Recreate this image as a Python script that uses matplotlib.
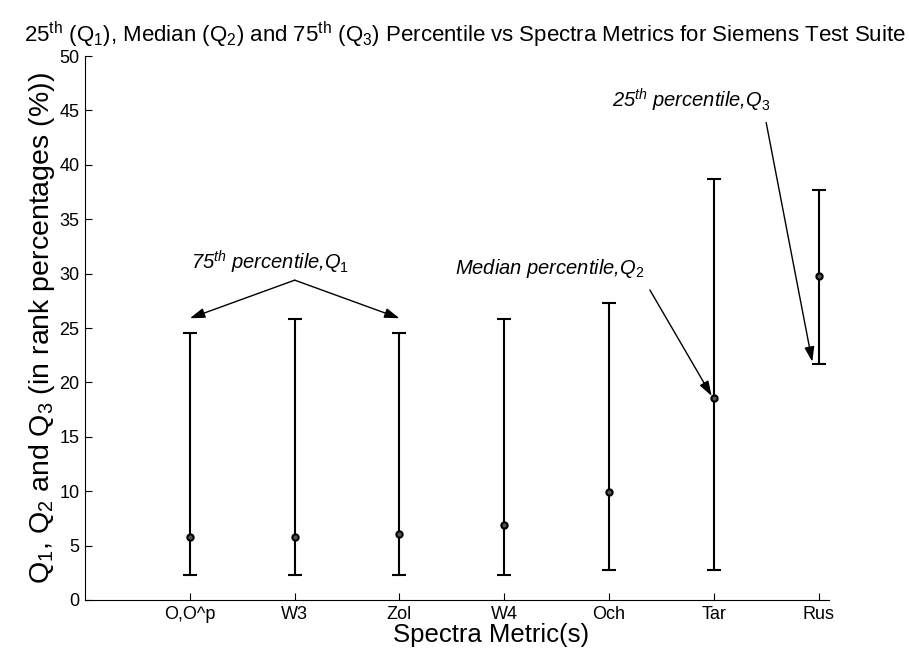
import numpy as np
import matplotlib
matplotlib.use('Agg')
import matplotlib.pyplot as plt

plt.rcParams['font.family'] = 'Liberation Sans'
plt.rcParams['mathtext.fontset'] = 'custom'
plt.rcParams['mathtext.rm'] = 'Liberation Sans'
plt.rcParams['mathtext.it'] = 'Liberation Sans:italic'
plt.rcParams['mathtext.bf'] = 'Liberation Sans:bold'

# data
metrics = ['O,O^p', 'W3', 'Zol', 'W4', 'Och', 'Tar', 'Rus']
q1 = np.array([2.3, 2.3, 2.3, 2.3, 2.8, 2.8, 21.7])
q2 = np.array([5.8, 5.8, 6.1, 6.9, 9.9, 18.6, 29.8])
q3 = np.array([24.5, 25.8, 24.5, 25.8, 27.3, 38.7, 37.7])
yticks = [0, 5, 10, 15, 20, 25, 30, 35, 40, 45, 50]

x = np.arange(1, len(metrics) + 1)

fig = plt.figure(figsize=(9.09, 6.52), dpi=100, facecolor='white')
ax = fig.add_axes([0.0937, 0.0798, 0.8183, 0.8342])

ax.errorbar(x, q2, yerr=[q2 - q1, q3 - q2], fmt='o', color='black',
            ecolor='black', elinewidth=1.5, capsize=5, capthick=1.5,
            markersize=4.5, markerfacecolor='#555555', markeredgecolor='black',
            markeredgewidth=1.5)

ax.set_xlim(0, 7.1)
ax.set_ylim(0, 50)
ax.set_xticks(x)
ax.set_xticklabels(metrics)
ax.set_yticks(yticks)
ax.tick_params(direction='in', length=5, labelsize=13, width=0.8, pad=4)
ax.spines['top'].set_visible(False)
ax.spines['right'].set_visible(False)

ax.set_title(r'25$^{\rm th}$ (Q$_1$), Median (Q$_2$) and 75$^{\rm th}$ (Q$_3$) Percentile vs Spectra Metrics for Siemens Test Suite',
             fontsize=16, pad=10, x=0.51)
ax.set_xlabel('Spectra Metric(s)', fontsize=18.5)
ax.xaxis.set_label_coords(0.546, -0.042)
ax.set_ylabel(r'Q$_1$, Q$_2$ and Q$_3$ (in rank percentages (%))', fontsize=20.5, labelpad=2)

arrow = dict(arrowstyle='-|>,head_length=0.9,head_width=0.3', color='black', lw=1, shrinkA=0, shrinkB=0)

# 75th percentile annotation with two arrows
ax.text(1.77, 31.0, r'75$^{th}$ percentile,$Q_1$', style='italic', fontsize=14.5,
        ha='center', va='center')
ax.annotate('', xy=(1.0, 25.9), xytext=(2.0, 29.4), arrowprops=arrow)
ax.annotate('', xy=(3.0, 25.9), xytext=(2.0, 29.4), arrowprops=arrow)

# median annotation
ax.text(4.43, 30.5, r'Median percentile,$Q_2$', style='italic', fontsize=14.5,
        ha='center', va='center')
ax.annotate('', xy=(5.98, 18.75), xytext=(5.39, 28.5), arrowprops=arrow)

# 25th percentile annotation
ax.text(5.78, 45.9, r'25$^{th}$ percentile,$Q_3$', style='italic', fontsize=14.5,
        ha='center', va='center')
ax.annotate('', xy=(6.94, 21.9), xytext=(6.5, 43.9), arrowprops=arrow)

fig.savefig('out.png', dpi=100)
